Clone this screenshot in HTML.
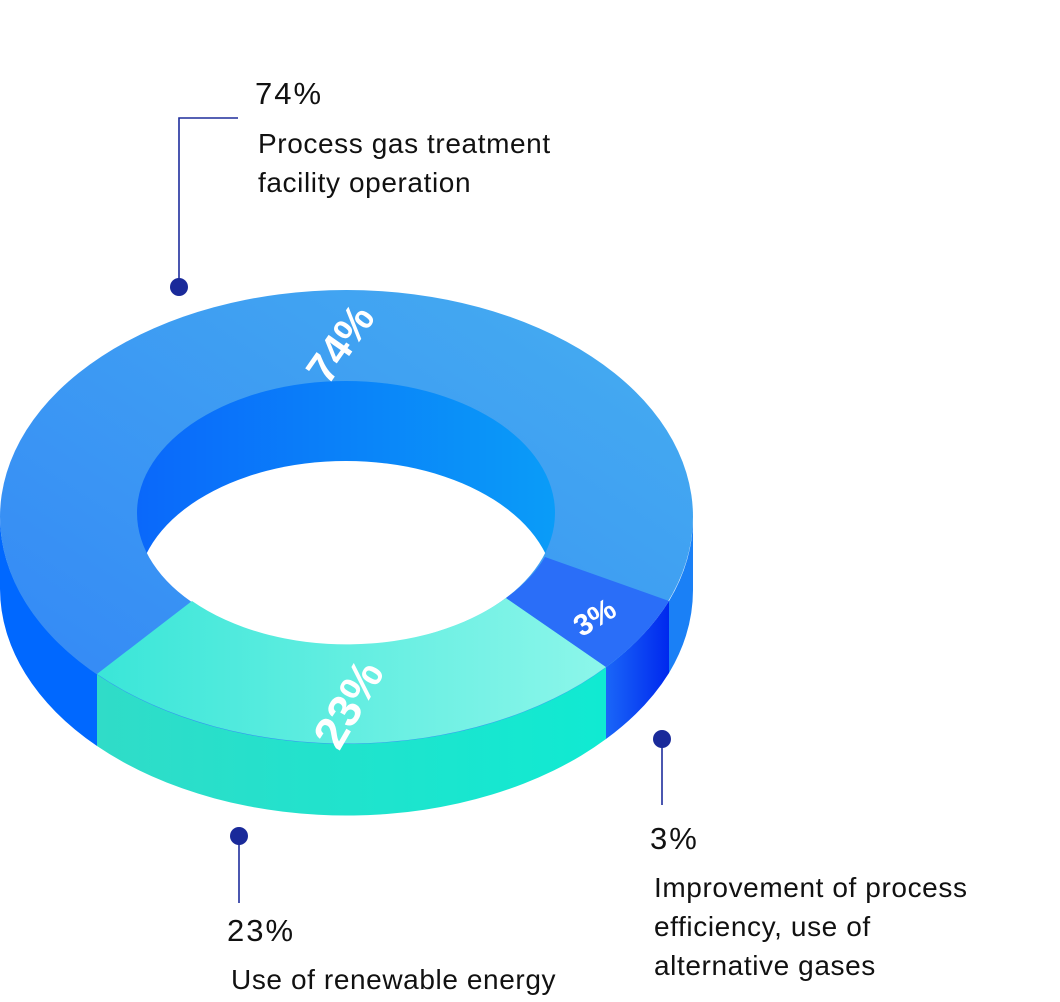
<!DOCTYPE html>
<html><head><meta charset="utf-8"><style>
html,body{margin:0;padding:0;background:#fff;width:1060px;height:1002px;overflow:hidden}
svg{display:block}
text{font-family:"Liberation Sans",sans-serif}
</style></head><body>
<svg width="1060" height="1002" viewBox="0 0 1060 1002">
<defs>
<linearGradient id="gTop" x1="0" y1="1" x2="1" y2="0">
<stop offset="0" stop-color="#3386f6"/><stop offset="1" stop-color="#46aef0"/></linearGradient>
<linearGradient id="gWall" x1="0" y1="0" x2="1" y2="0">
<stop offset="0" stop-color="#0a68fa"/><stop offset="1" stop-color="#0a9cf8"/></linearGradient>
<linearGradient id="gTeal" x1="0" y1="0" x2="1" y2="0">
<stop offset="0" stop-color="#3ae6d8"/><stop offset="1" stop-color="#8cf6ea"/></linearGradient>
<linearGradient id="gTealS" x1="0" y1="0" x2="1" y2="0">
<stop offset="0" stop-color="#30dcc8"/><stop offset="1" stop-color="#10ead2"/></linearGradient>
<linearGradient id="g3S" x1="0" y1="0" x2="1" y2="0">
<stop offset="0" stop-color="#1a66f8"/><stop offset="1" stop-color="#0028ee"/></linearGradient>
<clipPath id="cIn"><ellipse cx="346" cy="513" rx="209" ry="132"/></clipPath>
</defs>
<path d="M0,517 A346.5 227 0 0 0 97,674 L97,746 A346.5 227 0 0 1 0,589 Z" fill="#0068ff"/>
<path d="M97,674 A346.5 227 0 0 0 606,667 L606,739 A346.5 227 0 0 1 97,746 Z" fill="url(#gTealS)"/>
<path d="M606,667 A346.5 227 0 0 0 669,601 L669,673 A346.5 227 0 0 1 606,739 Z" fill="url(#g3S)"/>
<path d="M669,601 A346.5 227 0 0 0 693,517 L693,589 A346.5 227 0 0 1 669,673 Z" fill="#1a80f6"/>
<ellipse cx="346.5" cy="517" rx="346.5" ry="227" fill="url(#gTop)"/>
<ellipse cx="346" cy="513" rx="209" ry="132" fill="url(#gWall)"/>
<ellipse cx="346" cy="593" rx="209" ry="132" fill="#fff" clip-path="url(#cIn)"/>
<path d="M97,674 A346.5 227 0 0 0 606,667 L506,598 A209 132 0 0 1 192,601 Z" fill="url(#gTeal)"/>
<path d="M606,667 A346.5 227 0 0 0 669,601 L545,557 A209 132 0 0 1 506,598 Z" fill="#2a6ef8"/>
<text x="0" y="0" font-size="42" font-weight="bold" fill="#fff" text-anchor="middle" transform="translate(352,352) rotate(-55)">74%</text>
<text x="0" y="0" font-size="30" font-weight="bold" fill="#fff" text-anchor="middle" transform="translate(600,626) rotate(-32)">3%</text>
<text x="0" y="0" font-size="46" font-weight="bold" fill="#fff" text-anchor="middle" transform="translate(362,712) rotate(-60)">23%</text>
<g stroke="#1e2d9c" stroke-width="1.6" fill="none">
<polyline points="238,118 179,118 179,287"/>
<line x1="662" y1="739" x2="662" y2="805"/>
<line x1="239" y1="836" x2="239" y2="903"/>
</g>
<g fill="#1a2a9a">
<circle cx="179" cy="287" r="9"/>
<circle cx="662" cy="739" r="9"/>
<circle cx="239" cy="836" r="9"/>
</g>
<g fill="#111" font-size="28" letter-spacing="0.6">
<text x="255" y="104" font-size="31" letter-spacing="2">74%</text>
<text x="258" y="153">Process gas treatment</text>
<text x="258" y="192">facility operation</text>
<text x="650" y="849" font-size="31" letter-spacing="2">3%</text>
<text x="654" y="897">Improvement of process</text>
<text x="654" y="936">efficiency, use of</text>
<text x="654" y="975">alternative gases</text>
<text x="227" y="941" font-size="31" letter-spacing="2">23%</text>
<text x="231" y="989">Use of renewable energy</text>
</g>
</svg>
</body></html>
